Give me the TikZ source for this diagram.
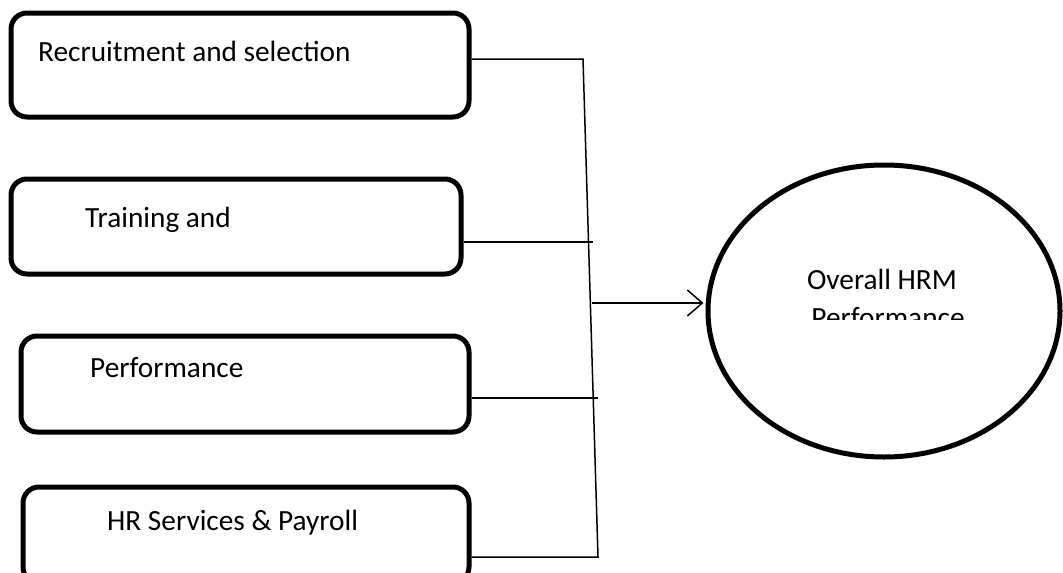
\documentclass[tikz,border=0pt]{standalone}
\usepackage{fontspec}
\setmainfont{Carlito}
\usetikzlibrary{shapes.geometric,arrows.meta,calc}

\begin{document}
\begin{tikzpicture}[x=1pt,y=-1pt]
\tikzstyle{every node}+=[inner sep=0pt]
\tikzstyle{hrbox}=[draw=black, line width=5pt, rounded corners=16pt, rectangle]
\tikzstyle{hrtext}=[anchor=base west, font=\fontsize{29.3}{34}\selectfont]
\tikzstyle{link}=[draw=black, line width=1.5pt]
\useasboundingbox (0,0) rectangle (1063,573);
% boxes on the left
\node [hrbox, minimum width=458pt, minimum height=104pt] (rec) at (240,65) {};
\node [hrbox, minimum width=450pt, minimum height=95pt] (trn) at (236,226.5) {};
\node [hrbox, minimum width=448pt, minimum height=96pt] (prf) at (245,384) {};
\node [hrbox, minimum width=446pt, minimum height=96pt] (hrs) at (246,535) {};
\node [hrtext] (rect) at (38,61) {Recruitment and selection};
\node [hrtext] (trnt) at (85,227) {Training and};
\node [hrtext] (prft) at (90,377) {Performance};
\node [hrtext] (hrst) at (107,530) {HR Services \& Payroll};
% the ellipse
\node [draw=black, line width=5pt, ellipse, minimum width=352pt, minimum height=292pt] (ovr) at (884,311) {};
\node [hrtext, anchor=base] (ovrt) at (882,289) {Overall HRM};
\begin{scope}
\clip (700,250) rectangle (1063,319);
\node [hrtext, anchor=base] (ovrp) at (888,327) {Performance};
\end{scope}
% connectors
\coordinate (top) at (583,59);
\coordinate (bot) at (598,557);
\coordinate (j2) at (593,242);
\coordinate (j3) at (598,398);
\coordinate (jm) at (592,303);
\draw [link] (rec.east |- top) -- (top) -- (bot) -- (hrs.east |- bot);
\draw [link] (trn.east |- j2) -- (j2);
\draw [link] (prf.east |- j3) -- (j3);
\draw [link, -{Straight Barb[length=15pt, width=26pt, line width=1.5pt]}] (jm) -- ($(ovr.west |- jm)+(-2,0)$);
\end{tikzpicture}
\end{document}
